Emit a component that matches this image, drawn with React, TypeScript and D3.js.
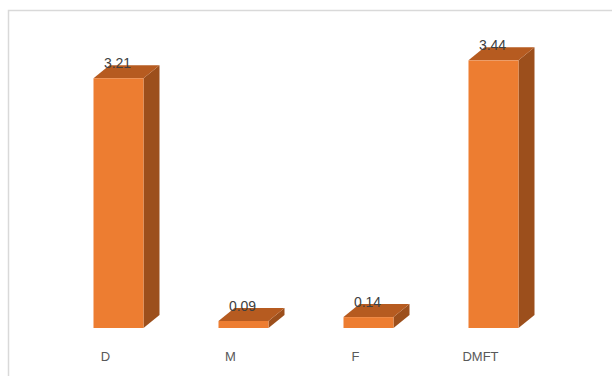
import React from "react";
import * as d3 from "d3";

const categories = ["D", "M", "F", "DMFT"];
const values = [3.21, 0.09, 0.14, 3.44];
const valueLabels = ["3.21", "0.09", "0.14", "3.44"];

const W = 612;
const H = 376;
const DX = 16;
const DY = 13;

export default function App() {
  const x = d3
    .scaleBand<string>()
    .domain(categories)
    .range([56, 556])
    .paddingInner(0.6)
    .paddingOuter(0.3);
  const y = d3.scaleLinear().domain([0, 4]).range([328, 328 - 4 * 77.8]);
  const bw = x.bandwidth();
  const font = "'Liberation Sans', Arial, sans-serif";

  return (
    <svg
      width={W}
      height={H}
      style={{ position: "absolute", left: 0, top: 0, background: "#fff" }}
    >
      <rect x={8.5} y={10.5} width={W + 20} height={H + 20} fill="#fff" stroke="#d9d9d9" strokeWidth={1.5} />
      {categories.map((c, i) => {
        const x0 = x(c)!;
        const x1 = x0 + bw;
        const yt = y(values[i]);
        const yb = y(0);
        const top = `M${x0},${yt} L${x0 + DX},${yt - DY} L${x1 + DX},${yt - DY} L${x1},${yt} Z`;
        const side = `M${x1},${yt} L${x1 + DX},${yt - DY} L${x1 + DX},${yb - DY} L${x1},${yb} Z`;
        return (
          <g key={c}>
            <path d={side} fill="#9C4F1C" />
            <path d={top} fill="#B65B20" />
            <rect x={x0} y={yt} width={bw} height={yb - yt} fill="#ED7D31" />
            <text
              x={x0 + bw / 2 - 1}
              y={yt - 10}
              textAnchor="middle"
              fontFamily={font}
              fontSize={14}
              fill="#404040"
            >
              {valueLabels[i]}
            </text>
            <text
              x={x0 + bw / 2 - 13}
              y={361}
              textAnchor="middle"
              fontFamily={font}
              fontSize={13}
              fill="#595959"
            >
              {c}
            </text>
          </g>
        );
      })}
    </svg>
  );
}
